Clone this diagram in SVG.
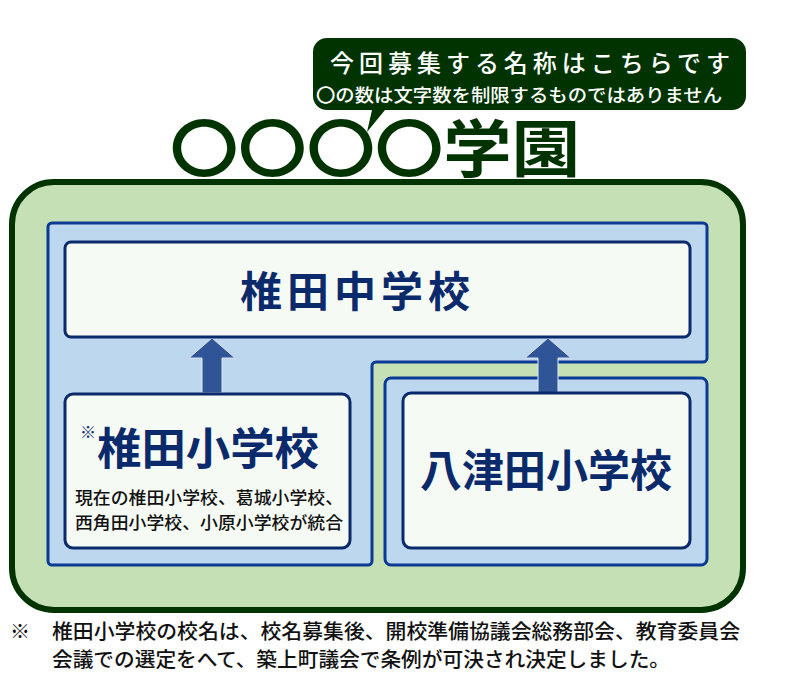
<svg xmlns="http://www.w3.org/2000/svg" width="794" height="694" viewBox="0 0 794 694">
<style>
text{font-family:"Noto Sans CJK JP","Noto Sans",sans-serif}
.blue{fill:#bdd7ee;stroke:#0b3a94;stroke-width:3}
.box{fill:#f6faf4;stroke:#0a2a6b;stroke-width:3}
.arrow{fill:#2f5597;stroke:#dfe8f4;stroke-width:1}
</style>
<rect width="794" height="694" fill="#fff"/>
<g id="callout">
<path d="M327,38 H732 a14,14 0 0 1 14,14 V96 a14,14 0 0 1 -14,14 H385 L367,132 L372,110 H327 a14,14 0 0 1 -14,-14 V52 a14,14 0 0 1 14,-14 Z" fill="#003300"/>
<text x="330" y="72" font-size="24" font-weight="500" fill="#fff" textLength="400" lengthAdjust="spacing">今回募集する名称はこちらです</text>
<text x="316" y="102" font-size="18" font-weight="500" fill="#fff" textLength="406" lengthAdjust="spacingAndGlyphs">〇の数は文字数を制限するものではありません</text>
</g>
<g id="title"><text x="170" y="172" font-size="62" font-weight="bold" fill="#003300" textLength="410" lengthAdjust="spacingAndGlyphs">〇〇〇〇学園</text></g>
<g id="outer"><rect x="12" y="182" width="731" height="428" rx="42" fill="#c5e0b4" stroke="#003300" stroke-width="6"/></g>
<g id="blueL"><path class="blue" d="M52,223 H703 a4,4 0 0 1 4,4 V358 a4,4 0 0 1 -4,4 H376 a4,4 0 0 0 -4,4 V561 a4,4 0 0 1 -4,4 H52 a4,4 0 0 1 -4,-4 V227 a4,4 0 0 1 4,-4 Z"/></g>
<g id="blueR"><rect class="blue" x="385" y="378" width="322" height="187" rx="6"/></g>
<g id="connectors">
<path class="arrow" d="M202,393 V358 H189 L212,338 L235,358 H222 V393 Z"/>
<path class="arrow" d="M538,393 V358 H525 L548,338 L571,358 H558 V393 Z"/>
</g>
<g id="chu"><rect class="box" x="65" y="242" width="625" height="95" rx="6" fill="#fff"/>
<text x="240" y="307" font-size="42" font-weight="bold" fill="#0a2a6b" textLength="230" lengthAdjust="spacing">椎田中学校</text></g>
<g id="shiida"><rect class="box" x="65" y="394" width="285" height="154" rx="8"/>
<text x="80" y="438" font-size="16" fill="#0a2a6b">※</text>
<text x="97" y="465" font-size="44" font-weight="bold" fill="#0a2a6b" textLength="222" lengthAdjust="spacingAndGlyphs">椎田小学校</text>
<text x="75" y="504" font-size="17.5" font-weight="500" fill="#111" textLength="268" lengthAdjust="spacingAndGlyphs">現在の椎田小学校、葛城小学校、</text>
<text x="75" y="529" font-size="17.5" font-weight="500" fill="#111" textLength="268" lengthAdjust="spacingAndGlyphs">西角田小学校、小原小学校が統合</text></g>
<g id="yatsuda"><rect class="box" x="403" y="393" width="287" height="155" rx="8"/>
<text x="420" y="487" font-size="44" font-weight="bold" fill="#0a2a6b" textLength="252" lengthAdjust="spacingAndGlyphs">八津田小学校</text></g>
<g id="note">
<text x="10" y="639" font-size="20" font-weight="500" fill="#111">※</text>
<text x="52" y="639" font-size="20" font-weight="500" fill="#111" textLength="688" lengthAdjust="spacingAndGlyphs">椎田小学校の校名は、校名募集後、開校準備協議会総務部会、教育委員会</text>
<text x="52" y="667" font-size="20" font-weight="500" fill="#111" textLength="618" lengthAdjust="spacingAndGlyphs">会議での選定をへて、築上町議会で条例が可決され決定しました。</text>
</g>
</svg>
